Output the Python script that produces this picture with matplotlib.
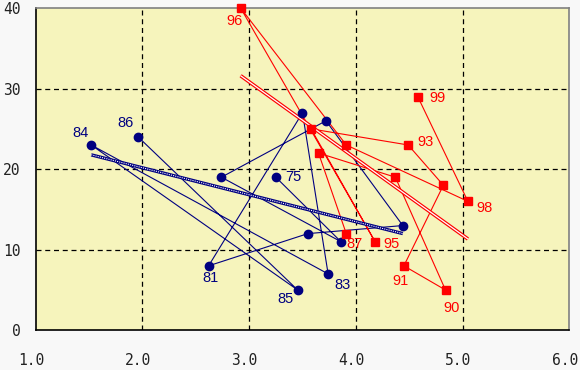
import matplotlib
matplotlib.use("Agg")
import matplotlib.pyplot as plt
import matplotlib.transforms as mtransforms
import numpy as np

# Blue series (years 75-86), in sequence
blue_years = [75, 76, 77, 78, 79, 80, 81, 82, 83, 84, 85, 86]
blue_x = [3.25, 3.86, 2.74, 3.72, 4.44, 3.55, 2.62, 3.50, 3.74, 1.52, 3.455, 1.96]
blue_y = [19, 11, 19, 26, 13, 12, 8, 27, 7, 23, 5, 24]
blue_labeled = [75, 81, 83, 84, 85, 86]

# Red series (years 87-99), in sequence
red_years = [87, 88, 89, 90, 91, 92, 93, 94, 95, 96, 97, 98, 99]
red_x = [3.91, 3.65, 4.37, 4.84, 4.45, 4.82, 4.49, 3.58, 4.18, 2.92, 3.91, 5.05, 4.58]
red_y = [12, 22, 19, 5, 8, 18, 23, 25, 11, 40, 23, 16, 29]
red_labeled = [87, 90, 91, 93, 95, 96, 98, 99]

x_ticks = [1.0, 2.0, 3.0, 4.0, 5.0, 6.0]
x_tick_labels = ["1.0", "2.0", "3.0", "4.0", "5.0", "6.0"]
y_ticks = [0, 10, 20, 30, 40]

# label offsets in pixels (dx, dy) with dy positive = down
label_offsets = {
    84: (-11, -11.5), 86: (-13, -13.5), 75: (18, 0), 81: (1.5, 12),
    85: (-12, 9), 83: (14.5, 11), 87: (8, 10), 95: (16, 2.5),
    91: (-3, 15), 90: (6, 18), 98: (17, 7), 93: (17.5, -2.5),
    99: (20, 1.5), 96: (-6.5, 13.5),
}

NAVY = "#000080"
RED = "#FF0000"

fig = plt.figure(figsize=(5.8, 3.7), dpi=100, facecolor="#F8F8F8")
ax = fig.add_axes([35.7 / 580, (370 - 330.3) / 370, (569.3 - 35.7) / 580, (330.3 - 8) / 370])
ax.set_facecolor("#F6F4BC")
ax.set_xlim(1.0, 6.0)
ax.set_ylim(0, 40)

for xv in [2, 3, 4, 5]:
    ax.axvline(xv, color="black", lw=0.9, ls=(0, (4, 3)), zorder=1)
for yv in [10, 20, 30]:
    ax.axhline(yv, color="black", lw=0.9, ls=(0, (4, 3)), zorder=1)

# connecting lines
ax.plot(blue_x, blue_y, color=NAVY, lw=0.8, zorder=3)
ax.plot(red_x, red_y, color=RED, lw=0.8, zorder=3)

# trend lines (least squares over the series' x-range)
bx = np.array(blue_x); by = np.array(blue_y)
bp = np.polyfit(bx, by, 1)
bxx = np.array([bx.min(), bx.max()])
ax.plot(bxx, np.polyval(bp, bxx), color=NAVY, lw=2.4, zorder=4, solid_capstyle="butt")
ax.plot(bxx, np.polyval(bp, bxx), color="white", lw=0.8, ls=(0, (1, 1)), zorder=4.1)

rx = np.array(red_x); ry = np.array(red_y)
rp = np.polyfit(rx, ry, 1)
rxx = np.array([rx.min(), rx.max()])
ax.plot(rxx, np.polyval(rp, rxx), color=RED, lw=2.6, zorder=4, solid_capstyle="butt")
ax.plot(rxx, np.polyval(rp, rxx), color="white", lw=0.9, zorder=4.1, solid_capstyle="butt")

# markers
ax.plot(blue_x, blue_y, ls="none", marker="o", ms=6, color=NAVY, mec=NAVY, zorder=5, clip_on=False)
ax.plot(red_x, red_y, ls="none", marker="s", ms=5.6, color=RED, mec=RED, zorder=5, clip_on=False)

lab_font = dict(family="Liberation Sans", fontsize=10.5)
for yr, xv, yv in zip(blue_years, blue_x, blue_y):
    if yr in blue_labeled:
        dx, dy = label_offsets[yr]
        ax.annotate(str(yr), (xv, yv), xytext=(dx * 0.72, -dy * 0.72), textcoords="offset points",
                    ha="center", va="center", color=NAVY, zorder=6, **lab_font)
for yr, xv, yv in zip(red_years, red_x, red_y):
    if yr in red_labeled:
        dx, dy = label_offsets[yr]
        ax.annotate(str(yr), (xv, yv), xytext=(dx * 0.72, -dy * 0.72), textcoords="offset points",
                    ha="center", va="center", color=RED, zorder=6, annotation_clip=False, **lab_font)

ax.set_xticks(x_ticks)
ax.set_xticklabels(x_tick_labels)
ax.set_yticks(y_ticks)
ax.tick_params(axis="both", length=0, labelsize=10.5, labelcolor="#222222")
ax.tick_params(axis="x", pad=16)
ax.tick_params(axis="y", pad=11)
shift = mtransforms.ScaledTranslation(-0.045, 0, fig.dpi_scale_trans)
for lab in ax.get_xticklabels():
    lab.set_family("DejaVu Sans Mono")
    lab.set_transform(lab.get_transform() + shift)
for lab in ax.get_yticklabels():
    lab.set_family("DejaVu Sans Mono")

ax.spines["left"].set_color("black")
ax.spines["bottom"].set_color("black")
ax.spines["left"].set_linewidth(1.2)
ax.spines["bottom"].set_linewidth(1.2)
ax.spines["top"].set_color("#808080")
ax.spines["right"].set_color("#808080")
ax.spines["top"].set_linewidth(1.2)
ax.spines["right"].set_linewidth(1.2)

fig.savefig("out.png", dpi=100, facecolor=fig.get_facecolor())
